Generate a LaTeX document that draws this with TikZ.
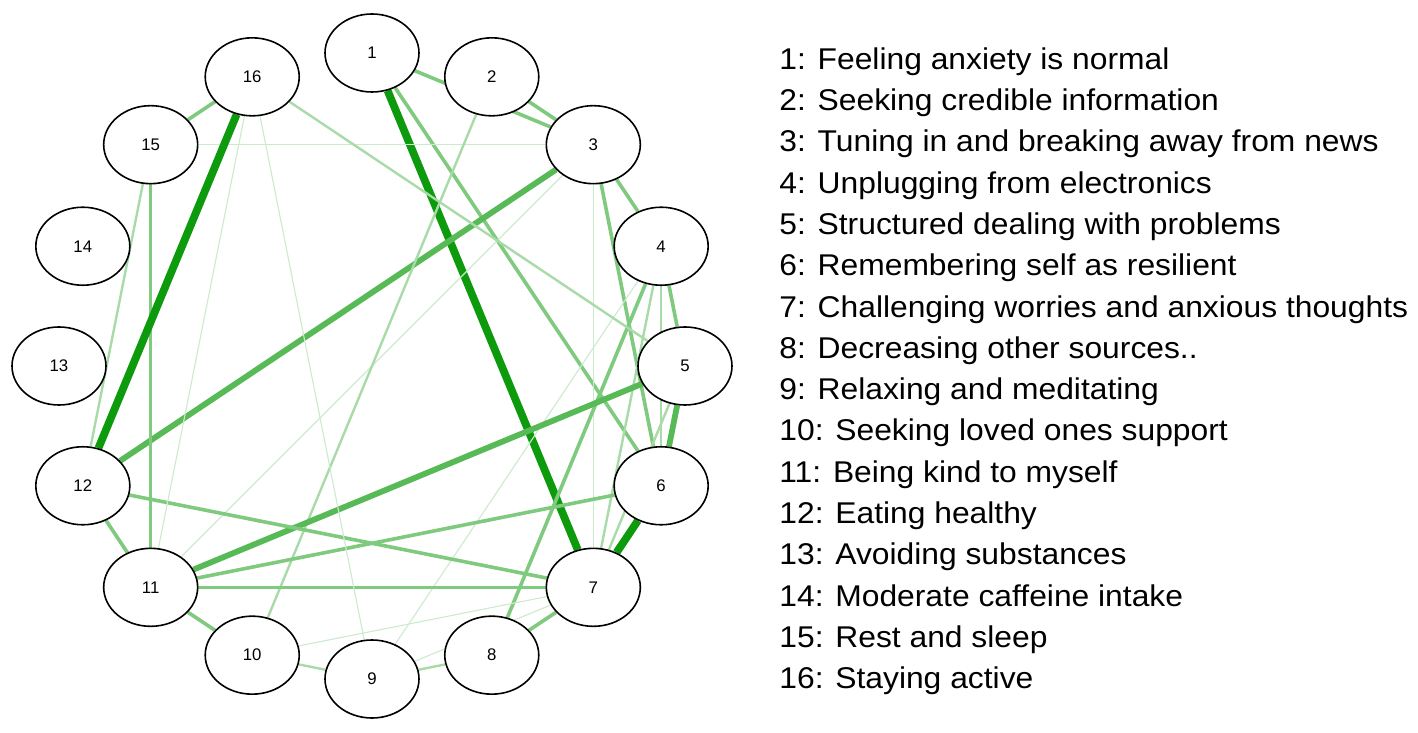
\documentclass[tikz,border=0pt]{standalone}
\usepackage{fontspec}
\setmainfont{Liberation Sans}
\newfontfamily\legendfont[FakeStretch=1.06]{Liberation Sans}
\usepackage{tikz}
\usetikzlibrary{shapes.geometric}
\usetikzlibrary{backgrounds}
\definecolor{vert}{RGB}{0,150,0}

\begin{document}
\begin{tikzpicture}[x=0.5pt,y=0.5pt,
  item/.style={draw=black, line width=0.8pt, fill=white, ellipse, minimum width=47pt, minimum height=39pt, inner sep=0pt, font=\fontsize{8.4}{10}\selectfont},
  legend/.style={anchor=base west, inner sep=0pt, font=\legendfont\fontsize{15}{17}\selectfont},
  e1/.style={line width=0.55pt, vert!20},
  e2/.style={line width=1.2pt, vert!34},
  e3/.style={line width=1.8pt, vert!50},
  e4/.style={line width=2.9pt, vert!66},
  e5/.style={line width=3.9pt, vert!95}]
\useasboundingbox (-372,-367) rectangle (1046,366);
% nodes on the circle
\foreach \i in {1,...,16}
  \node [item] (n\i) at ({90-22.5*(\i-1)}:313) {\i};
% edges under the nodes
\begin{scope}[on background layer]
\foreach \a/\b/\s in {1/3/3, 2/3/3, 1/7/5, 1/6/3, 3/4/3, 3/6/3, 3/7/1, 3/11/1, 3/12/4, 3/15/1,
  2/10/2, 4/5/3, 4/6/2, 4/7/2, 4/8/3, 4/9/1, 5/6/4, 5/7/2, 5/11/4, 5/16/2, 6/7/5, 6/11/3,
  7/8/3, 7/9/1, 7/10/1, 7/11/3, 7/12/3, 8/9/2, 9/10/2, 9/16/1, 10/11/3, 11/12/3, 11/15/3,
  11/16/1, 12/15/2, 12/16/5, 15/16/3}
  \draw [e\s] (n\a) -- (n\b);
\end{scope}
% legend
\foreach \i/\t in {1/Feeling anxiety is normal, 2/Seeking credible information,
  3/Tuning in and breaking away from news, 4/Unplugging from electronics,
  5/Structured dealing with problems, 6/Remembering self as resilient,
  7/Challenging worries and anxious thoughts, 8/Decreasing other sources..,
  9/Relaxing and meditating, 10/Seeking loved ones support, 11/Being kind to myself,
  12/Eating healthy, 13/Avoiding substances, 14/Moderate caffeine intake,
  15/Rest and sleep, 16/Staying active}
  \node [legend] (l\i) at (407,{296.7-41.3*(\i-1)}) {\i: \t};
\end{tikzpicture}
\end{document}
